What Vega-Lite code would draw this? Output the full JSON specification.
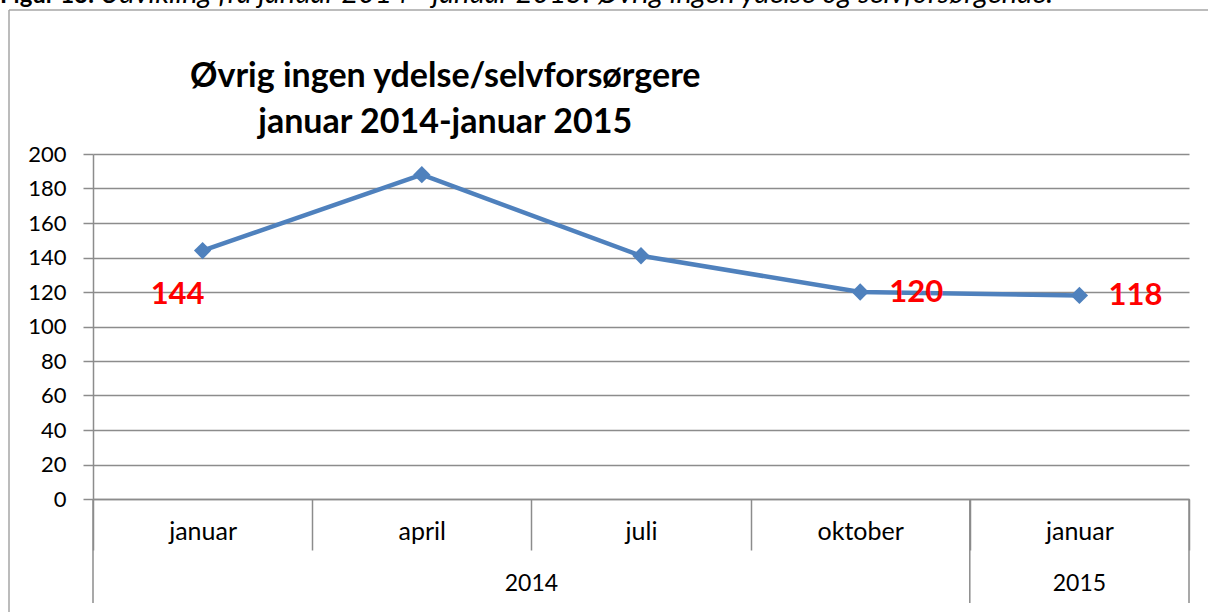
{
  "$schema": "https://vega.github.io/schema/vega-lite/v6.json",
  "width": 1096,
  "height": 345,
  "autosize": {"type": "none"},
  "padding": {"left": 93, "top": 154, "right": 19, "bottom": 113},
  "background": "white",
  "config": {
    "font": "Lato",
    "view": {"stroke": null},
    "axisY": {"tickCount": 11, "labelOverlap": false}
  },
  "datasets": {
    "series": [
      {"key": "2014-januar", "month": "januar", "year": "2014", "value": 144},
      {"key": "2014-april", "month": "april", "year": "2014", "value": 188},
      {"key": "2014-juli", "month": "juli", "year": "2014", "value": 141},
      {"key": "2014-oktober", "month": "oktober", "year": "2014", "value": 120},
      {"key": "2015-januar", "month": "januar", "year": "2015", "value": 118}
    ]
  },
  "layer": [
    {
      "data": {"name": "series"},
      "mark": {"type": "line", "color": "#4F81BD", "strokeWidth": 4.5},
      "encoding": {
        "x": {
          "field": "key",
          "type": "nominal",
          "sort": null,
          "scale": {"domain": ["2014-januar", "2014-april", "2014-juli", "2014-oktober", "2015-januar"], "paddingInner": 0, "paddingOuter": 0},
          "axis": {
            "title": null,
            "labelExpr": "split(datum.value, '-')[1]",
            "labelAngle": 0,
            "labelFontSize": 25,
            "labelColor": "black",
            "labelFont": "Lato",
            "labelPadding": -31,
            "labelOverlap": false,
            "tickBand": "extent",
            "tickSize": 51,
            "tickColor": "#8C8C8C",
            "tickWidth": 1.5,
            "domainColor": "#8C8C8C",
            "domainWidth": 1.5,
            "grid": false
          }
        },
        "y": {
          "field": "value",
          "type": "quantitative",
          "scale": {"domain": [0, 200], "nice": false},
          "axis": {
            "title": null,
            "values": [0, 20, 40, 60, 80, 100, 120, 140, 160, 180, 200],
            "tickCount": 11,
            "labelFontSize": 22,
            "labelColor": "black",
            "labelFont": "Lato",
            "labelPadding": 17,
            "labelOverlap": false,
            "labelBound": false,
            "tickSize": 10,
            "tickColor": "#8C8C8C",
            "tickWidth": 1.5,
            "domainColor": "#8C8C8C",
            "domainWidth": 1.5,
            "grid": true,
            "gridColor": "#8C8C8C",
            "gridWidth": 1.5
          }
        }
      }
    },
    {
      "data": {"name": "series"},
      "mark": {"type": "point", "shape": "diamond", "filled": true, "size": 300, "color": "#4F81BD", "opacity": 1},
      "encoding": {
        "x": {"field": "key", "type": "nominal", "sort": null},
        "y": {"field": "value", "type": "quantitative"}
      }
    },
    {
      "data": {"name": "series"},
      "transform": [{"filter": "datum.key == '2014-januar'"}],
      "mark": {"type": "text", "color": "#FF0000", "fontSize": 31, "fontWeight": "bold", "font": "Lato", "dx": -25, "dy": 44},
      "encoding": {
        "x": {"field": "key", "type": "nominal", "sort": null},
        "y": {"field": "value", "type": "quantitative"},
        "text": {"field": "value", "type": "quantitative"}
      }
    },
    {
      "data": {"name": "series"},
      "transform": [{"filter": "datum.key == '2014-oktober' || datum.key == '2015-januar'"}],
      "mark": {"type": "text", "color": "#FF0000", "fontSize": 31, "fontWeight": "bold", "font": "Lato", "dx": 56, "dy": 1},
      "encoding": {
        "x": {"field": "key", "type": "nominal", "sort": null},
        "y": {"field": "value", "type": "quantitative"},
        "text": {"field": "value", "type": "quantitative"}
      }
    },
    {
      "data": {"values": [{"key": "2014-april", "line": "Øvrig ingen ydelse/selvforsørgere", "pos": 244.6}, {"key": "2014-april", "line": "januar 2014-januar 2015", "pos": 218.0}]},
      "mark": {"type": "text", "fontSize": 34, "fontWeight": "bold", "font": "Lato", "color": "black", "baseline": "middle", "align": "center"},
      "encoding": {
        "x": {"field": "key", "type": "nominal", "bandPosition": 0.607},
        "y": {"field": "pos", "type": "quantitative"},
        "text": {"field": "line"}
      }
    },
    {
      "data": {"values": [{"key": "2014-april", "year": "2014"}]},
      "mark": {"type": "text", "fontSize": 23, "font": "Lato", "color": "black", "baseline": "middle"},
      "encoding": {
        "x": {"field": "key", "type": "nominal", "bandPosition": 1},
        "y": {"datum": -49.3},
        "text": {"field": "year"}
      }
    },
    {
      "data": {"values": [{"key": "2015-januar", "year": "2015"}]},
      "mark": {"type": "text", "fontSize": 23, "font": "Lato", "color": "black", "baseline": "middle"},
      "encoding": {
        "x": {"field": "key", "type": "nominal", "bandPosition": 0.5},
        "y": {"datum": -49.3},
        "text": {"field": "year"}
      }
    },
    {
      "data": {"values": [{"key": "2014-januar"}, {"key": "2015-januar"}]},
      "mark": {"type": "rule", "color": "#8C8C8C", "strokeWidth": 1.5},
      "encoding": {
        "x": {"field": "key", "type": "nominal", "bandPosition": 0},
        "y": {"datum": 0},
        "y2": {"datum": -60.3}
      }
    },
    {
      "data": {"values": [{"key": "2015-januar"}]},
      "mark": {"type": "rule", "color": "#8C8C8C", "strokeWidth": 1.5},
      "encoding": {
        "x": {"field": "key", "type": "nominal", "bandPosition": 1},
        "y": {"datum": 0},
        "y2": {"datum": -60.3}
      }
    },
    {
      "data": {"values": [{"from": "2014-januar", "to": "2015-januar"}]},
      "mark": {"type": "rule", "color": "#A6A6A6", "strokeWidth": 1.5, "xOffset": -84, "x2Offset": 40},
      "encoding": {
        "x": {"field": "from", "type": "nominal", "bandPosition": 0},
        "x2": {"field": "to", "bandPosition": 1},
        "y": {"datum": 283.5}
      }
    },
    {
      "data": {"values": [{"from": "2014-januar"}]},
      "mark": {"type": "rule", "color": "#A6A6A6", "strokeWidth": 1.5, "xOffset": -84},
      "encoding": {
        "x": {"field": "from", "type": "nominal", "bandPosition": 0},
        "y": {"datum": 283.5},
        "y2": {"datum": -75}
      }
    },
    {
      "data": {"values": [{"from": "2014-januar", "text": "Figur 13:"}]},
      "mark": {"type": "text", "fontSize": 24, "font": "Lato", "fontWeight": "bold", "color": "black", "align": "left", "baseline": "alphabetic", "dx": -93},
      "encoding": {
        "x": {"field": "from", "type": "nominal", "bandPosition": 0},
        "y": {"datum": 287.5},
        "text": {"field": "text"}
      }
    },
    {
      "data": {"values": [{"from": "2014-januar", "text": "Udvikling fra januar 2014 - januar 2015: Øvrig ingen ydelse og selvforsørgende."}]},
      "mark": {"type": "text", "fontSize": 29, "font": "Lato", "fontStyle": "italic", "color": "black", "align": "left", "baseline": "alphabetic", "dx": 7},
      "encoding": {
        "x": {"field": "from", "type": "nominal", "bandPosition": 0},
        "y": {"datum": 287.5},
        "text": {"field": "text"}
      }
    }
  ]
}
